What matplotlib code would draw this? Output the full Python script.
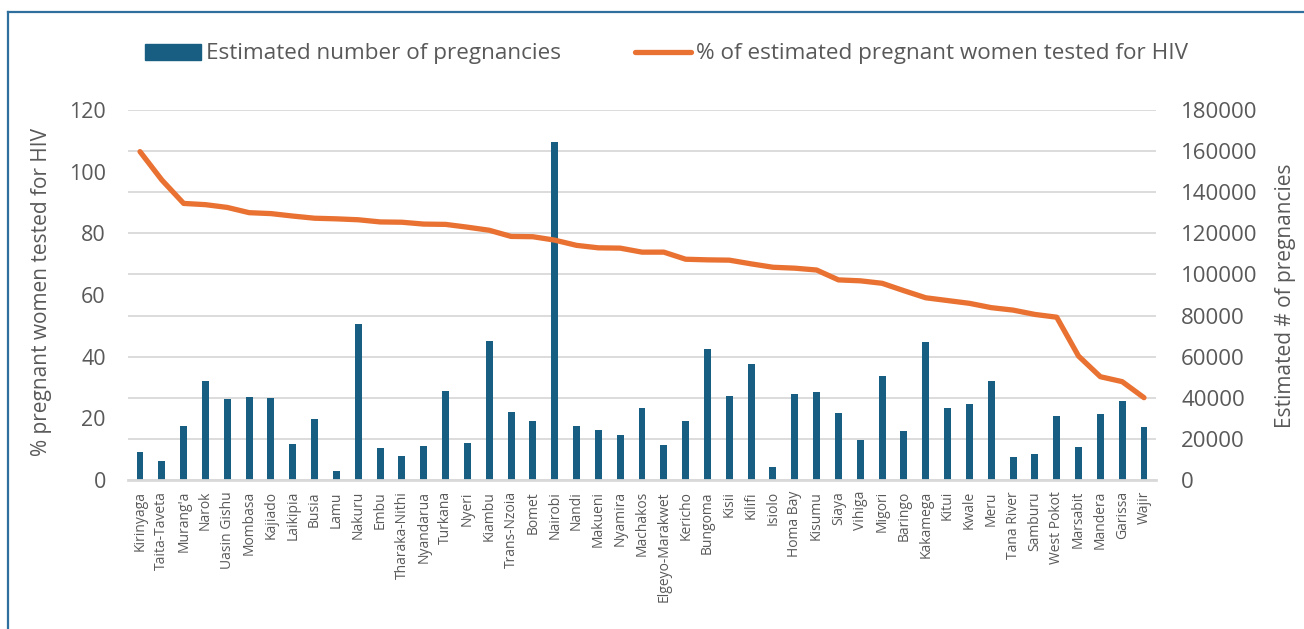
import matplotlib
matplotlib.use("Agg")
import matplotlib.pyplot as plt
from matplotlib.lines import Line2D
from matplotlib.patches import Patch
import numpy as np

counties = ["Kirinyaga", "Taita-Taveta", "Murang'a", "Narok", "Uasin Gishu", "Mombasa",
            "Kajiado", "Laikipia", "Busia", "Lamu", "Nakuru", "Embu", "Tharaka-Nithi",
            "Nyandarua", "Turkana", "Nyeri", "Kiambu", "Trans-Nzoia", "Bomet", "Nairobi",
            "Nandi", "Makueni", "Nyamira", "Machakos", "Elgeyo-Marakwet", "Kericho",
            "Bungoma", "Kisii", "Kilifi", "Isiolo", "Homa Bay", "Kisumu", "Siaya", "Vihiga",
            "Migori", "Baringo", "Kakamega", "Kitui", "Kwale", "Meru", "Tana River",
            "Samburu", "West Pokot", "Marsabit", "Mandera", "Garissa", "Wajir"]

pregnancies = [13600, 9200, 26300, 48000, 39500, 40500, 39900, 17400, 29800, 4500,
               75700, 15600, 11500, 16500, 43300, 17800, 67800, 32900, 28700, 164400,
               26100, 24300, 21900, 35000, 17000, 28800, 63500, 41000, 56400, 6300,
               42000, 42800, 32700, 19300, 50600, 23700, 67000, 34900, 37000, 48000,
               11000, 12800, 31300, 16000, 32300, 38300, 25900]

pct_tested = [106.5, 97.3, 89.7, 89.3, 88.4, 86.7, 86.4, 85.6, 84.9, 84.7,
              84.4, 83.7, 83.6, 83.0, 82.9, 82.0, 81.0, 79.0, 78.9, 77.8,
              76.1, 75.3, 75.2, 73.9, 73.9, 71.6, 71.4, 71.3, 70.1, 69.0,
              68.7, 68.1, 64.9, 64.6, 63.8, 61.4, 59.1, 58.2, 57.3, 55.9,
              55.1, 53.7, 52.8, 40.2, 33.5, 31.9, 26.7]

plt.rcParams['font.family'] = ['Open Sans', 'DejaVu Sans']
gray = '#595959'
bar_col = '#175e82'
line_col = '#e97132'

fig = plt.figure(figsize=(13.04, 6.29), dpi=100)
ax = fig.add_axes([128/1304, 1-480/629, 1028/1304, 370/629])
ax2 = ax.twinx()

x = np.arange(len(counties))

# bars on the right axis, grid there too so it stays behind
ax2.bar(x, pregnancies, width=0.32, color=bar_col, zorder=3)
ax2.set_ylim(0, 180000)
ax2.set_yticks(range(0, 180001, 20000))
ax2.yaxis.grid(True, color='#d9d9d9', lw=1.3, zorder=0)
ax2.set_axisbelow(True)

# line on the left axis, drawn above the bars
ax.set_zorder(ax2.get_zorder() + 1)
ax.patch.set_visible(False)
ax.plot(x, pct_tested, color=line_col, lw=3.8, solid_capstyle='round', solid_joinstyle='round')
ax.set_ylim(0, 120)
ax.set_yticks(range(0, 121, 20))
ax.set_xlim(-0.55, len(counties) - 0.45)
ax.set_xticks(x)
ax.set_xticklabels(counties, rotation=90, fontsize=10, color=gray)

for a in (ax, ax2):
    for s in a.spines.values():
        s.set_visible(False)
ax.spines['bottom'].set_visible(True)
ax.spines['bottom'].set_color('#d9d9d9')
ax.spines['bottom'].set_linewidth(2)

ax.tick_params(axis='y', length=0, labelsize=15.5, labelcolor=gray, pad=16)
ax.tick_params(axis='x', length=0, pad=8)
ax2.tick_params(axis='y', length=0, labelsize=16, labelcolor=gray, pad=18)
for t in ax2.get_yticklabels():
    t.set_horizontalalignment('left')

ax.set_ylabel('% pregnant women tested for HIV', fontsize=15, color=gray)
ax.yaxis.set_label_coords(-0.074, 0.508)
ax2.set_ylabel('Estimated # of pregnancies', fontsize=15, color=gray)
ax2.yaxis.set_label_coords(1.116, 0.497)

handles = [Patch(color=bar_col), Line2D([0], [0], color=line_col, lw=3.8, solid_capstyle='round')]
fig.legend(handles, ['Estimated number of pregnancies', '% of estimated pregnant women tested for HIV'],
           loc='center', bbox_to_anchor=(0.511, 1-54/629), ncol=2, frameon=False,
           fontsize=16.2, labelcolor=gray, handlelength=2.5, handletextpad=0.2,
           columnspacing=3.3)

# chart frame
frame_col = '#2f6f9e'
fig.add_artist(Line2D([8/1304, 8/1304], [0, 1-12/629], transform=fig.transFigure, color=frame_col, lw=1.6))
fig.add_artist(Line2D([8/1304, 1], [1-12/629, 1-12/629], transform=fig.transFigure, color=frame_col, lw=1.6))

fig.savefig('out.png', dpi=100, facecolor='white')
